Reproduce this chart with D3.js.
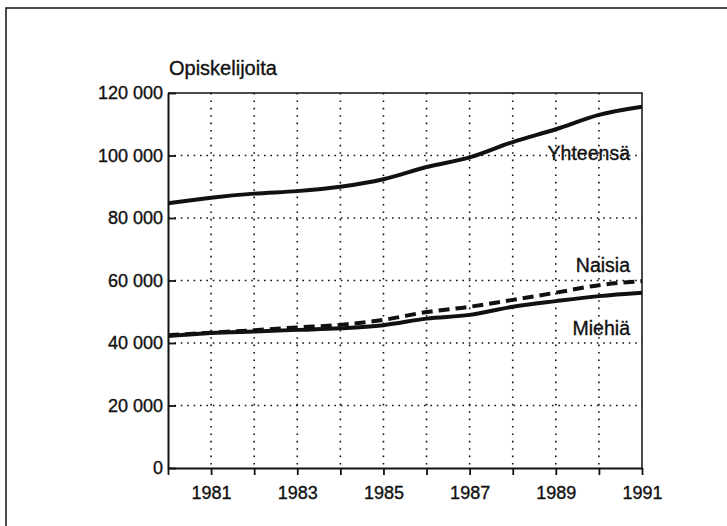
<!DOCTYPE html>
<html>
<head>
<meta charset="utf-8">
<script src="https://cdn.jsdelivr.net/npm/d3@7"></script>
<style>
  html, body { margin: 0; padding: 0; background: #fff; }
  svg { display: block; font-family: "Liberation Sans", Arial, Helvetica, sans-serif; }
</style>
</head>
<body>
<div id="chart"></div>
<script>
// data
var years = [1980, 1981, 1982, 1983, 1984, 1985, 1986, 1987, 1988, 1989, 1990, 1991];
var yhteensa = [84700, 86500, 87800, 88600, 90000, 92400, 96300, 99400, 104300, 108400, 113000, 115600];
var naisia = [42500, 43300, 44100, 45000, 45800, 47400, 49900, 51600, 53800, 56100, 58500, 59800];
var miehia = [42200, 43200, 43700, 44200, 44700, 45700, 47800, 49000, 51600, 53400, 55000, 56100];
var yTicks = [0, 20000, 40000, 60000, 80000, 100000, 120000];
var xLabelYears = [1981, 1983, 1985, 1987, 1989, 1991];
var seriesNames = ['Yhteensä', 'Naisia', 'Miehiä'];
var labelAt = [100000, 64000, 44000]; // value level where each name sits

var svgWidth = 727, svgHeight = 526;
var margin = { top: 93, right: 85, bottom: 58, left: 168 };
var width = svgWidth - margin.left - margin.right;
var height = svgHeight - margin.top - margin.bottom;

var svg = d3.select('#chart')
  .append('svg')
  .attr('width', svgWidth)
  .attr('height', svgHeight);

// outer frame of the page (runs off the right and bottom edge)
svg.append('rect')
  .attr('x', 6).attr('y', 8)
  .attr('width', 780).attr('height', 600)
  .attr('fill', 'none')
  .attr('stroke', '#111')
  .attr('stroke-width', 1.5);

var g = svg.append('g')
  .attr('transform', 'translate(' + margin.left + ',' + margin.top + ')');

var x = d3.scaleLinear().domain([1980, 1991]).range([0, width]);
var y = d3.scaleLinear().domain([0, 120000]).range([height, 0]);

var fi = d3.formatLocale({ decimal: ',', thousands: ' ', grouping: [3], currency: ['', ' €'] });
var fmt = fi.format(',d');

// dotted grid
g.append('g').selectAll('line')
  .data(yTicks.slice(1, -1))
  .enter().append('line')
  .attr('x1', 0).attr('x2', width)
  .attr('y1', function (d) { return y(d); })
  .attr('y2', function (d) { return y(d); })
  .attr('stroke', '#111')
  .attr('stroke-width', 1.6)
  .attr('stroke-dasharray', '1.6,4.8');

g.append('g').selectAll('line')
  .data(years.slice(1, -1))
  .enter().append('line')
  .attr('y1', 0).attr('y2', height)
  .attr('x1', function (d) { return x(d); })
  .attr('x2', function (d) { return x(d); })
  .attr('stroke', '#111')
  .attr('stroke-width', 1.6)
  .attr('stroke-dasharray', '1.6,5.8');

// top and right border of plot
g.append('path')
  .attr('d', 'M0,0H' + width + 'V' + height)
  .attr('fill', 'none')
  .attr('stroke', '#111')
  .attr('stroke-width', 1.5);

var yAxis = g.append('g')
  .attr('class', 'y-axis')
  .call(d3.axisLeft(y).tickValues(yTicks).tickFormat(fmt).tickSize(-8).tickSizeOuter(0).tickPadding(5));

var xAxis = g.append('g')
  .attr('class', 'x-axis')
  .attr('transform', 'translate(0,' + height + ')')
  .call(d3.axisBottom(x).tickValues(years).tickSize(7).tickSizeOuter(0).tickPadding(11)
    .tickFormat(function (d) { return xLabelYears.indexOf(d) >= 0 ? d : ''; }));

[yAxis, xAxis].forEach(function (a) {
  a.selectAll('.domain').attr('stroke', '#111').attr('stroke-width', 2);
  a.selectAll('.tick line').attr('stroke', '#111').attr('stroke-width', 1.8);
  a.selectAll('.tick text')
    .attr('fill', '#111')
    .attr('stroke', '#111')
    .attr('stroke-width', 0.35)
    .attr('font-size', 18)
    .attr('font-family', '"Liberation Sans", Arial, sans-serif');
});

// axis title
g.append('text')
  .attr('x', 1)
  .attr('y', -18)
  .attr('fill', '#111')
  .attr('stroke', '#111')
  .attr('stroke-width', 0.35)
  .attr('font-size', 20)
  .text('Opiskelijoita');

var line = d3.line()
  .x(function (d, i) { return x(years[i]); })
  .y(function (d) { return y(d); })
  .curve(d3.curveMonotoneX);

var series = [yhteensa, naisia, miehia];
var dashes = [null, '11,6', null];

series.forEach(function (s, k) {
  g.append('path')
    .datum(s)
    .attr('d', line)
    .attr('fill', 'none')
    .attr('stroke', '#111')
    .attr('stroke-width', 4)
    .attr('stroke-dasharray', dashes[k]);

  g.append('text')
    .attr('x', x(1991) - 12)
    .attr('y', y(labelAt[k]) + 4)
    .attr('text-anchor', 'end')
    .attr('fill', '#111')
    .attr('stroke', '#111')
    .attr('stroke-width', 0.35)
    .attr('font-size', 19.5)
    .text(seriesNames[k]);
});
</script>
</body>
</html>
